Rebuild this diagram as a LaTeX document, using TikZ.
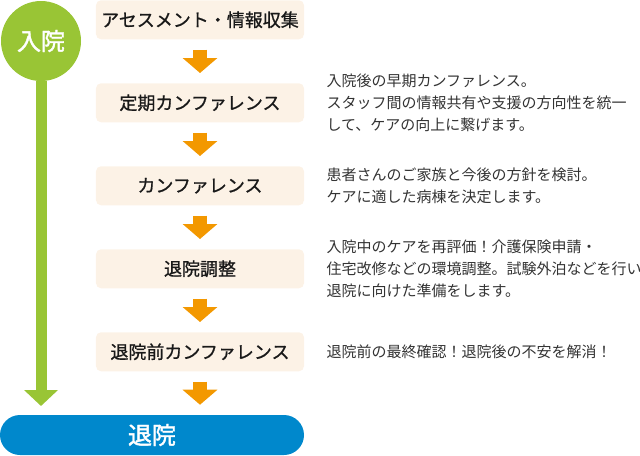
\documentclass[tikz,border=0pt]{standalone}
\usepackage{fontspec}
\setmainfont{Noto Sans CJK JP}
\newfontfamily\stagefont{Noto Sans CJK JP}[FakeBold=0.9]
\newfontfamily\signfont{Noto Sans CJK JP}[FakeBold=1.6]
\usetikzlibrary{matrix,arrows.meta,positioning}
\definecolor{leaf}{HTML}{99C535}
\definecolor{amber}{HTML}{F39800}
\definecolor{cream}{HTML}{FCF2E6}
\definecolor{sea}{HTML}{0088CC}
\definecolor{ink}{HTML}{333333}
\tikzset{
	stage/.style={fill=cream, rounded corners=3.75pt, minimum width=156pt, minimum height=29.25pt, inner sep=0pt, text=black!90, font=\stagefont\fontsize{13.5pt}{16pt}\selectfont},
	flow/.style={amber, line width=10.5pt, shorten <=7.5pt, shorten >=7.5pt, -{Triangle[width=25.5pt,length=11.25pt]}},
	note/.style={inner sep=0pt, align=left, text=ink, font=\fontsize{11.25pt}{16.2pt}\selectfont},
	sign/.style={inner sep=0pt, text=white, font=\signfont\fontsize{18pt}{20pt}\selectfont},
}
\begin{document}
\begin{tikzpicture}[x=0.75pt,y=-0.75pt]
			\useasboundingbox (0,0) rectangle (640,455);
			\matrix (b) [matrix of nodes, row sep=33pt, inner sep=0pt, nodes={stage}, anchor=north] at (200,0)
			{
				アセスメント・情報収集 \\
				定期カンファレンス \\
				カンファレンス \\
				退院調整 \\
				退院前カンファレンス \\
			};
			\node (exit) [sign, fill=sea, rounded corners=15pt, minimum width=228pt, minimum height=30pt] at (152,435) {退院};
			\node (admit) [sign, circle, fill=leaf, minimum size=60pt] at (41,41) {入院};
			\coordinate (admit-end) at (41,406);
			\draw[leaf, line width=8.25pt, -{Triangle[width=24.75pt,length=12pt]}] (admit) -- (admit-end);
			\path[flow]
			(b-1-1) edge (b-2-1)
			(b-2-1) edge (b-3-1)
			(b-3-1) edge (b-4-1)
			(b-4-1) edge (b-5-1)
			(b-5-1) edge (exit.north -| b-5-1);
			\node (note-2) [note, right=16.5pt of b-2-1] {入院後の早期カンファレンス。\\スタッフ間の情報共有や支援の方向性を統一\\して、ケアの向上に繋げます。};
			\node (note-3) [note, right=16.5pt of b-3-1] {患者さんのご家族と今後の方針を検討。\\ケアに適した病棟を決定します。};
			\node (note-4) [note, right=16.5pt of b-4-1] {入院中のケアを再評価！介護保険申請・\\住宅改修などの環境調整。試験外泊などを行い\\退院に向けた準備をします。};
			\node (note-5) [note, right=16.5pt of b-5-1] {退院前の最終確認！退院後の不安を解消！};
		\end{tikzpicture}
\end{document}
